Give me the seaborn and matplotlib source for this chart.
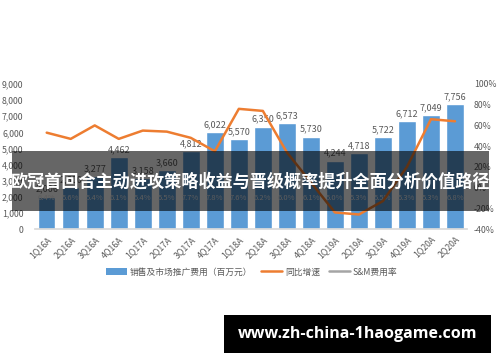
import matplotlib
matplotlib.use("Agg")
import matplotlib.pyplot as plt
import seaborn as sns
import pandas as pd
from matplotlib.lines import Line2D
from matplotlib.patches import Patch, Rectangle

quarters = ["1Q16A", "2Q16A", "3Q16A", "4Q16A", "1Q17A", "2Q17A", "3Q17A", "4Q17A",
            "1Q18A", "2Q18A", "3Q18A", "4Q18A", "1Q19A", "2Q19A", "3Q19A", "4Q19A",
            "1Q20A", "2Q20A"]
sm_expense = [2006, 2600, 3277, 4462, 3158, 3660, 4812, 6022, 5570, 6350, 6573, 5730,
              4244, 4718, 5722, 6712, 7049, 7756]
yoy_growth = [53, 47, 60, 47, 55, 54, 48, 35, 76, 74, 34, 5, -24, -26, -13, 20, 66, 64]
sm_rate = ["6.4%", "5.6%", "5.4%", "6.1%", "5.4%", "5.5%", "7.7%", "7.8%", "7.6%",
           "6.2%", "6.0%", "6.1%", "5.0%", "5.3%", "5.5%", "5.3%", "5.3%", "6.8%"]
legend_labels = ["销售及市场推广费用（百万元）", "同比增速", "S&M费用率"]
banner_text = "欧冠首回合主动进攻策略收益与晋级概率提升全面分析价值路径"
site_text = "www.zh-china-1haogame.com"

sns.set_theme(style="white")
plt.rcParams["font.family"] = ["Noto Sans CJK SC", "DejaVu Sans"]

BLUE = "#5B9BD5"
ORANGE = "#ED7D31"
GRAY = "#A5A5A5"
TXT = "#595959"

df = pd.DataFrame({"q": quarters, "v": sm_expense, "g": yoy_growth})

fig = plt.figure(figsize=(5.0, 3.62), dpi=100)
ax = fig.add_axes([0.0694, 0.3674, 0.8646, 0.4006])
sns.barplot(data=df, x="q", y="v", color=BLUE, width=0.73, ax=ax, saturation=1)
ax.set_xlim(-0.5, len(quarters) - 0.5)
ax.set_ylim(0, 9000)
ax.set_yticks(range(0, 9001, 1000))
ax.set_yticklabels([f"{v:,}" for v in range(0, 9001, 1000)], fontsize=6.3, color=TXT)
ax.set_xticks(range(len(quarters)))
ax.set_xticklabels(quarters, rotation=45, ha="right", rotation_mode="anchor",
                   fontsize=6.3, color=TXT)
ax.tick_params(axis="y", length=0, pad=8)
ax.tick_params(axis="x", length=0, pad=4)
ax.set_xlabel("")
ax.set_ylabel("")
for s in ["top", "right", "left"]:
    ax.spines[s].set_visible(False)
ax.spines["bottom"].set_color("#D9D9D9")

for i, v in enumerate(sm_expense):
    ax.text(i, v + 180, f"{v:,}", ha="center", va="bottom", fontsize=6.5, color=TXT)
    ax.text(i, 1900, sm_rate[i], ha="center", va="center", fontsize=5.5, color="#E8E8E8")

ax2 = ax.twinx()
sns.lineplot(data=df, x="q", y="g", color=ORANGE, linewidth=1.8, ax=ax2, sort=False)
ax2.set_ylim(-40, 100)
ax2.set_yticks(range(-40, 101, 20))
ax2.set_yticklabels([f"{v}%" for v in range(-40, 101, 20)], fontsize=6.3, color=TXT)
ax2.tick_params(axis="y", length=0, pad=5)
ax2.set_ylabel("")
for s in ["top", "right", "left", "bottom"]:
    ax2.spines[s].set_visible(False)
ax2.set_xlim(-0.5, len(quarters) - 0.5)

handles = [Patch(facecolor=BLUE, edgecolor="none"),
           Line2D([0], [0], color=ORANGE, lw=1.8),
           Line2D([0], [0], color=GRAY, lw=1.8)]
fig.legend(handles, legend_labels, loc="center", bbox_to_anchor=(0.503, 1 - 272 / 362),
           ncol=3, frameon=False, fontsize=6.3, labelcolor=TXT, handlelength=2.4,
           handleheight=0.9, columnspacing=1.0, handletextpad=0.3)

# dark banner overlay
fig.patches.append(Rectangle((12 / 500, 1 - 211 / 362), 477 / 500, 60 / 362,
                             transform=fig.transFigure, facecolor="black", alpha=0.6,
                             edgecolor="none", zorder=10))
fig.text(250.5 / 500, 1 - 182 / 362, banner_text, ha="center", va="center",
         fontsize=12.3, fontweight="bold", color="white", zorder=11)

# bottom site box
fig.patches.append(Rectangle((224 / 500, 1 - 353 / 362), 267 / 500, 38 / 362,
                             transform=fig.transFigure, facecolor="black",
                             edgecolor="none", zorder=10))
fig.text(357.5 / 500, 1 - 334 / 362, site_text, ha="center", va="center",
         fontsize=11.5, fontweight="bold", color="white", zorder=11,
         family=["Open Sans", "DejaVu Sans"])

fig.savefig("out.png", dpi=100, facecolor="white")
